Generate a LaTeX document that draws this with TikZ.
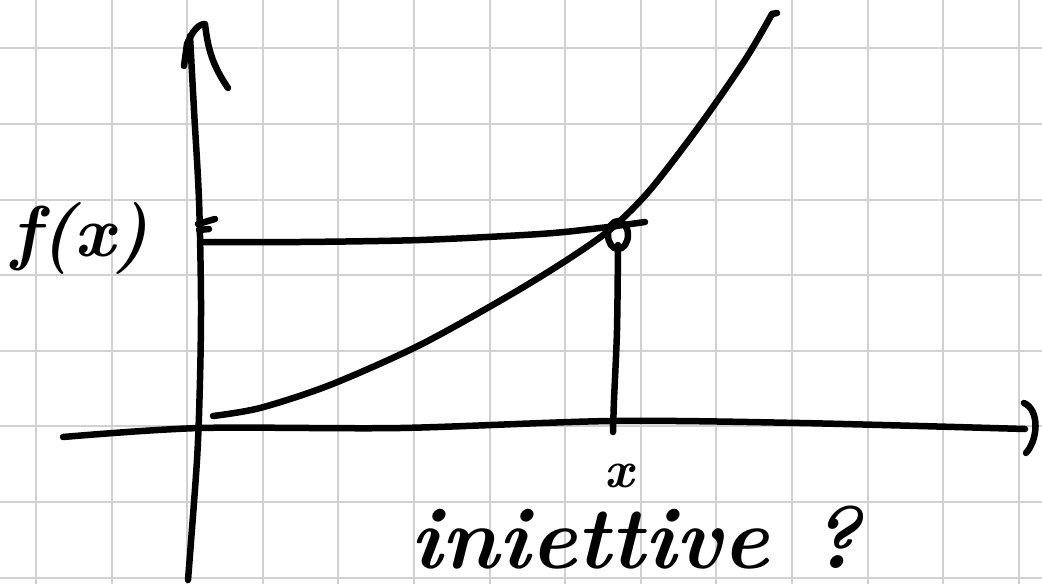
\documentclass[tikz,border=0pt]{standalone}
\begin{document}
\begin{tikzpicture}[x=1pt,y=-1pt,
  ink/.style={line width=6.5pt,line cap=round,line join=round,black},
  gridline/.style={line width=2pt,color=black!18},
  hand/.style={inner sep=0pt,text=black}]
\useasboundingbox (0,0) rectangle (1042,584);
\fill[white] (0,0) rectangle (1042,584);
% grid paper
\foreach \i in {0,...,13} \draw[gridline] ({36+75.6*\i},0) -- ({36+75.6*\i},584);
\foreach \j in {0,...,7} \draw[gridline] (0,{48.3+75.6*\j}) -- (1042,{48.3+75.6*\j});
% y axis
\draw[ink] plot[smooth] coordinates {(188,580) (197,460) (200,380) (201,300) (199,200) (194,110) (190,36)};
\draw[ink] (184,66) -- (187,44) .. controls (192,32) and (198,24) .. (205,24) .. controls (208,50) and (213,66) .. (228,88);
% tick on y axis
\draw[ink] (198,224) -- (215,219);
\draw[ink] (199,230) -- (209,229);
% x axis
\draw[ink] plot[smooth] coordinates {(63,437) (200,428) (400,428) (612,421) (800,423) (1025,429)};
\draw[ink] (1024,403) .. controls (1040,410) and (1038,440) .. (1026,453);
% graph of f
\draw[ink] plot[smooth] coordinates {(213,416) (260,408) (330,385) (420,345) (510,295) (570,258) (612,228) (650,190) (700,125) (745,60) (772,14)};
\draw[ink] (772,14) -- (777,13);
% horizontal line at f(x)
\draw[ink] plot[smooth] coordinates {(203,242) (300,242) (420,240) (540,234) (600,228) (645,222)};
% vertical line at x
\draw[ink] plot[smooth] coordinates {(618,245) (617,330) (614,400) (613,432)};
% point
\draw[ink] (618,235) ellipse (10 and 14);
% labels
\node[hand, font=\fontsize{72}{72}\selectfont\bfseries\itshape] (fx) at (80,238) {f(x)};
\node[hand, font=\fontsize{52}{52}\selectfont\bfseries\itshape] (xl) at (619,476) {x};
\node[hand, anchor=base west, font=\fontsize{88}{88}\selectfont\bfseries\itshape] (q) at (410,568) {iniettive\hspace{40pt}?};
\end{tikzpicture}
\end{document}
